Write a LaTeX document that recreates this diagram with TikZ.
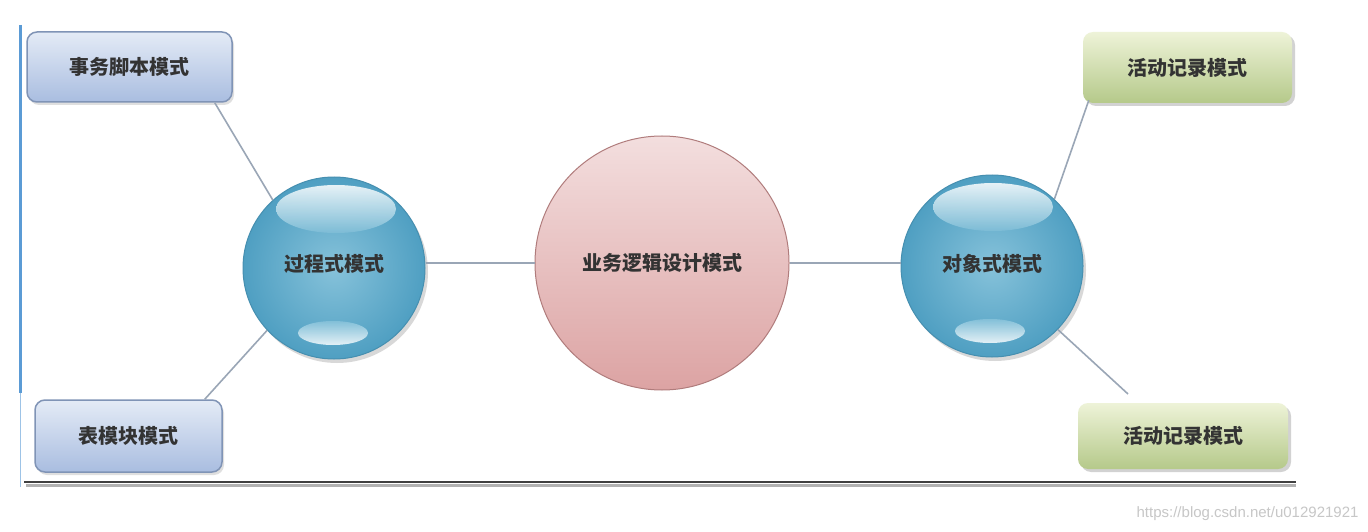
\documentclass[tikz,border=0pt]{standalone}
\usepackage{fontspec}
\newfontfamily\cjk{Noto Sans CJK SC}
\setsansfont{Liberation Sans}
\usetikzlibrary{shadows,shapes.geometric,calc}
\definecolor{boxblueT}{HTML}{E4EBF6}
\definecolor{boxblueB}{HTML}{A9BDE0}
\definecolor{boxblueD}{HTML}{8094B6}
\definecolor{boxgreenT}{HTML}{EEF3D8}
\definecolor{boxgreenB}{HTML}{B5C98A}
\definecolor{boxgreenD}{HTML}{9AAE70}
\definecolor{sphereA}{HTML}{86C2DA}
\definecolor{sphereB}{HTML}{4F9FC2}
\definecolor{sphereD}{HTML}{468FB0}
\definecolor{pinkT}{HTML}{F3DEDE}
\definecolor{pinkB}{HTML}{DCA3A3}
\definecolor{pinkD}{HTML}{B07C7C}
\definecolor{linkc}{HTML}{9AA6B6}
\definecolor{sideblue}{HTML}{5B9BD5}
\tikzset{
  txt/.style={font=\cjk\fontsize{20}{24}\selectfont\bfseries, text=black!80},
  bluebox/.style={rounded corners=10pt, draw=boxblueD, line width=1.5pt,
    top color=boxblueT, bottom color=boxblueB, txt,
    drop shadow={shadow xshift=2pt, shadow yshift=-3pt, opacity=0.25}},
  greenbox/.style={rounded corners=10pt, draw=none,
    top color=boxgreenT, bottom color=boxgreenB, txt,
    drop shadow={shadow xshift=3pt, shadow yshift=-3pt, opacity=0.35}},
  sphere/.style={circle, minimum size=182pt, inner sep=0pt, draw=sphereD, line width=1pt,
    inner color=sphereA, outer color=sphereB, txt,
    drop shadow={shadow xshift=3pt, shadow yshift=-4pt, opacity=0.3}},
  core/.style={circle, minimum size=254pt, inner sep=0pt, draw=pinkD, line width=1pt,
    top color=pinkT, bottom color=pinkB, txt},
  link/.style={draw=linkc, line width=1.6pt},
  hilite/.style={top color=white!92!sphereA, bottom color=sphereA!85!sphereB, draw=none, opacity=0.9}
}
\begin{document}
\begin{tikzpicture}[x=1pt,y=-1pt]
\useasboundingbox[fill=white] (0,0) rectangle (1368,532);
% frame lines
\draw[sideblue, line width=3pt] (20,25) -- (20,393);
\draw[sideblue!60, line width=1pt] (20,393) -- (20,487);
\draw[black!30, line width=3pt] (26,485) -- (1296,485);
\draw[black!75, line width=2.2pt] (24,482) -- (1296,482);
% nodes
\node[bluebox, minimum width=205pt, minimum height=70pt] (ts) at (129.5,67) {事务脚本模式};
\node[bluebox, minimum width=187pt, minimum height=72pt] (tm) at (128.5,436) {表模块模式};
\node[greenbox, minimum width=209pt, minimum height=71pt] (ar1) at (1187.5,67.5) {活动记录模式};
\node[greenbox, minimum width=210pt, minimum height=66pt] (ar2) at (1183,436) {活动记录模式};
\node[core] (core) at (662,263) {};
\node[sphere] (proc) at (334,268) {};
\node[sphere] (obj) at (992,266) {};
% highlights
\shade[hilite] (336,209) ellipse [x radius=60pt, y radius=24pt];
\shade[hilite, top color=sphereA, bottom color=white!90!sphereA] (333,333) ellipse [x radius=35pt, y radius=12pt];
\shade[hilite] (993,207) ellipse [x radius=60pt, y radius=24pt];
\shade[hilite, top color=sphereA, bottom color=white!90!sphereA] (990,331) ellipse [x radius=35pt, y radius=12pt];
% texts
\node[txt] at (core) {业务逻辑设计模式};
\node[txt] at (334,264) {过程式模式};
\node[txt] at (992,264) {对象式模式};
% links
\coordinate (tsl) at ($(ts.south east)+(-18pt,0)$);
\coordinate (tml) at ($(tm.north east)+(-18pt,0)$);
\coordinate (arl) at ($(ar1.south west)+(6pt,3pt)$);
\coordinate (ar2l) at (1128,394);
\draw[link] (core.west) -- (core.west -| proc.east);
\draw[link] (core.east) -- (core.east -| obj.west);
\draw[link] (tsl) -- (proc.132);
\draw[link] (tml) -- (proc.-137);
\draw[link] (arl) -- (obj.47);
\draw[link] (obj.-44) -- (ar2l);
% watermark
\node[font=\sffamily\fontsize{15}{18}\selectfont, text=black!22, anchor=east] (wm) at (1362,514) {https://blog.csdn.net/u012921921};
\end{tikzpicture}
\end{document}
